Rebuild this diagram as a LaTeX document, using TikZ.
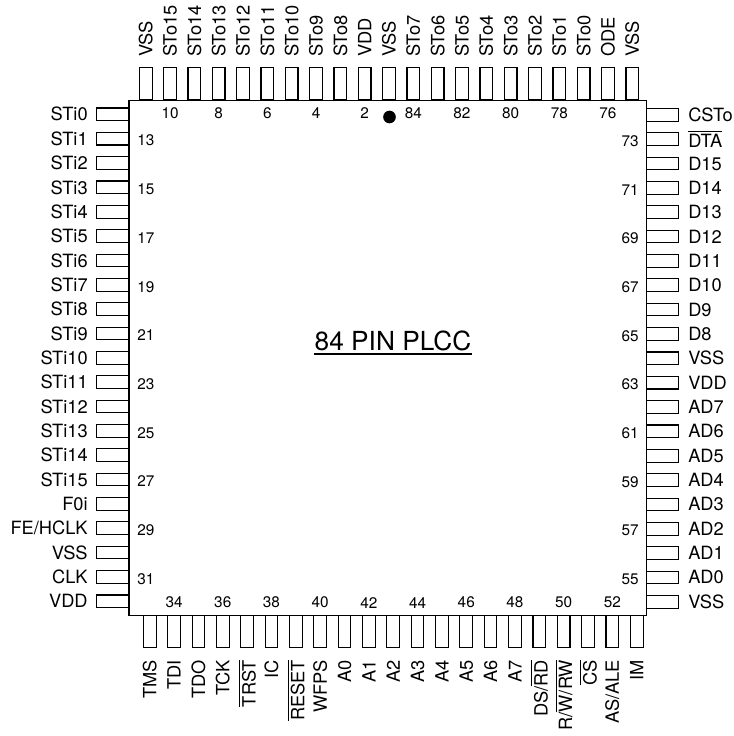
\documentclass[tikz,border=0pt]{standalone}
\usepackage{fontspec}
\setmainfont{TeX Gyre Heros}
\usepackage{xcolor}
\usepackage{amsmath}
\usetikzlibrary{positioning}

\newcommand{\barred}[1]{$\overline{\text{#1}}$}

\begin{document}
\begin{tikzpicture}[
    x=0.75pt, y=-0.75pt,
    node distance=7.5pt,
    pinh/.style={rectangle, draw, line width=0.8pt, inner sep=0pt, minimum width=24pt, minimum height=9.5pt},
    pinv/.style={rectangle, draw, line width=0.8pt, inner sep=0pt, minimum width=9.5pt, minimum height=24pt},
    pinlabel/.style={inner sep=0pt, font=\fontsize{13.7}{15}\selectfont},
    pinnum/.style={inner sep=0pt, font=\fontsize{11.5}{12}\selectfont},
]
    \useasboundingbox (0,0) rectangle (733,736);

    \node[draw, line width=0.9pt, inner sep=0pt, minimum width=388pt, minimum height=386.25pt] (chip) at (387.7,357.8) {};

    % top row
    \foreach \i/\name in {0/VSS, 1/STo15, 2/STo14, 3/STo13, 4/STo12, 5/STo11, 6/STo10, 7/STo9, 8/STo8, 9/VDD, 10/VSS, 11/STo7, 12/STo6, 13/STo5, 14/STo4, 15/STo3, 16/STo2, 17/STo1, 18/STo0, 19/ODE, 20/VSS} {
        \node[pinv, anchor=south] (top\i) at ({145.7+\i*24.33},100.3) {};
        \node[pinlabel, rotate=90, above=7.5pt of top\i.north, anchor=west] (toplabel\i) {\name};
    }
    % bottom row
    \foreach \i/\name in {0/TMS, 1/TDI, 2/TDO, 3/TCK, 4/{\barred{TRST}}, 5/IC, 6/{\barred{RESET}}, 7/WFPS, 8/A0, 9/A1, 10/A2, 11/A3, 12/A4, 13/A5, 14/A6, 15/A7, 16/{DS/\barred{RD}}, 17/{R/\barred{W/RW}}, 18/{\barred{CS}}, 19/{AS/ALE}, 20/IM} {
        \node[pinv, anchor=north] (bot\i) at ({149.7+\i*24.35},615.3) {};
        \node[pinlabel, rotate=90, below=8.5pt of bot\i.south, anchor=east] (botlabel\i) {\name};
    }
    % left and right rows
    \foreach \i/\name in {0/STi0, 1/STi1, 2/STi2, 3/STi3, 4/STi4, 5/STi5, 6/STi6, 7/STi7, 8/STi8, 9/STi9, 10/STi10, 11/STi11, 12/STi12, 13/STi13, 14/STi14, 15/STi15, 16/F0i, 17/{FE/HCLK}, 18/VSS, 19/CLK, 20/VDD} {
        \node[pinh, anchor=east] (left\i) at (129,{114.3+\i*24.35}) {};
        \node[pinlabel, left=6pt of left\i.west] (leftlabel\i) {\name};
    }
    \foreach \i/\name in {0/CSTo, 1/{\barred{DTA}}, 2/D15, 3/D14, 4/D13, 5/D12, 6/D11, 7/D10, 8/D9, 9/D8, 10/VSS, 11/VDD, 12/AD7, 13/AD6, 14/AD5, 15/AD4, 16/AD3, 17/AD2, 18/AD1, 19/AD0, 20/VSS} {
        \node[pinh, anchor=west] (right\i) at (646.3,{114.8+\i*24.35}) {};
        \node[pinlabel, right=6.5pt of right\i.east] (rightlabel\i) {\name};
    }

    % pin numbers
    \foreach \i/\num in {1/10, 3/8, 5/6, 7/4, 9/2, 11/84, 13/82, 15/80, 17/78, 19/76} {
        \node[pinnum, below=5.5pt of top\i.south] (topnum\num) {\num};
    }
    \foreach \i/\num in {1/34, 3/36, 5/38, 7/40, 9/42, 11/44, 13/46, 15/48, 17/50, 19/52} {
        \node[pinnum, above=5.25pt of bot\i.north] (botnum\num) {\num};
    }
    \foreach \i/\num in {1/13, 3/15, 5/17, 7/19, 9/21, 11/23, 13/25, 15/27, 17/29, 19/31} {
        \node[pinnum, anchor=west] (leftnum\num) at ([xshift=6pt,yshift=-1.5pt]left\i.east) {\num};
    }
    \foreach \i/\num in {1/73, 3/71, 5/69, 7/67, 9/65, 11/63, 13/61, 15/59, 17/57, 19/55} {
        \node[pinnum, anchor=east] (rightnum\num) at ([xshift=-5.5pt,yshift=-1.5pt]right\i.west) {\num};
    }

    \node[circle, fill=black, inner sep=0pt, minimum size=9.5pt] (dot) at (389.5,117) {};
    \node[font=\fontsize{19.7}{20}\selectfont, inner sep=0pt] (title) at (393,341) {84 PIN PLCC};
    \draw[line width=1.3pt] ([yshift=-2pt]title.south west) -- ([yshift=-2pt]title.south east);
\end{tikzpicture}
\end{document}
